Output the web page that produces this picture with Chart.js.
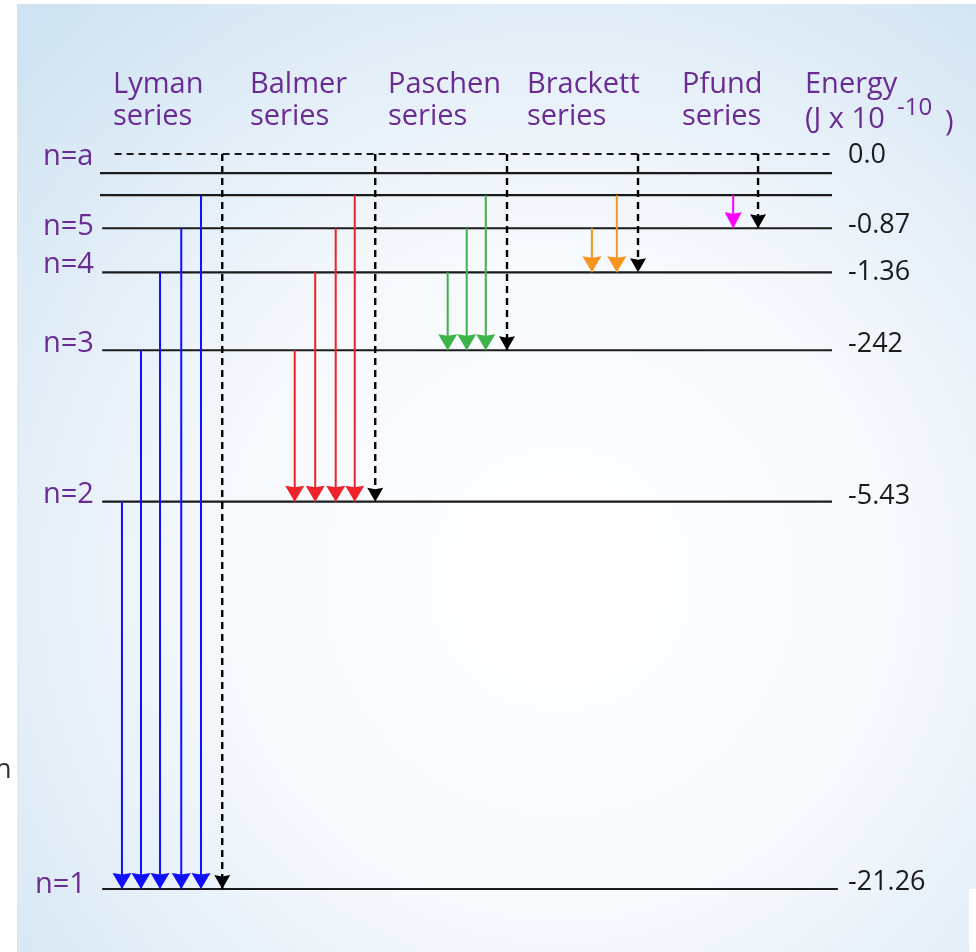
<!DOCTYPE html>
<html>
<head>
<meta charset="utf-8">
<script src="https://cdn.jsdelivr.net/npm/chart.js@4/dist/chart.umd.min.js"></script>
<style>
  html, body { margin: 0; padding: 0; background: #ffffff; overflow: hidden; }
  canvas { display: block; }
</style>
</head>
<body>
<canvas id="c" width="976" height="952"></canvas>
<script>
// ---------------- DATA ----------------
// energy levels, bottom to top (schematic vertical position, n=1 depth = -100)
const levelNames   = ['n=1', 'n=2', 'n=3', 'n=4', 'n=5', 'n=6', 'n=7', 'n=a'];
const levelLabels  = ['n=1', 'n=2', 'n=3', 'n=4', 'n=5', '', '', 'n=a'];
const energyLabels = ['-21.26', '-5.43', '-242', '-1.36', '-0.87', '', '', '0.0'];
const levelPos     = [-100, -47.3, -26.7, -16.1, -10.1, -5.6, -2.6, 0];

// spectral series: name, lower level index, upper level indices of the transitions
const seriesNames  = ['Lyman', 'Balmer', 'Paschen', 'Brackett', 'Pfund'];
const seriesTo     = [0, 1, 2, 3, 4];
const lymanFrom    = [1, 2, 3, 4, 5];
const balmerFrom   = [2, 3, 4, 5];
const paschenFrom  = [3, 4, 5];
const brackettFrom = [4, 5];
const pfundFrom    = [5];
const seriesFrom   = [lymanFrom, balmerFrom, paschenFrom, brackettFrom, pfundFrom];
const ionLevel     = 7; // n=a (ionisation limit)

// ---------------- LAYOUT / STYLE ----------------
const STYLE = {
  purple: '#6a2b94',
  dark: '#1b1b1b',
  font: '"Open Sans", "Noto Sans", sans-serif',
  seriesColors: ['#1010ff', '#ee2228', '#3cb44a', '#f7941d', '#ff00ff'],
  // arrow columns (x axis units 0..100)
  arrowX: [
    [3.0, 5.6, 8.2, 11.1, 13.8],
    [26.6, 29.4, 32.2, 34.8],
    [47.5, 50.1, 52.7],
    [67.2, 70.6],
    [86.5]
  ],
  ionX: [16.7, 37.6, 55.6, 73.5, 89.9],
  levelStart: [0.3, 0.3, 0.3, 0.3, 0.3, 0, 0, 2.0],
  levelEnd:   [100.8, 100, 100, 100, 100, 100, 100, 100],
  labelDy:  [4, 1, 2, 1, 7, 0, 0, 11],
  energyDy: [1, 2, 2, 8, 5, 0, 0, 9],
  labelX:  [35, 43, 43, 43, 43, 43, 43, 43],
  energyX: 848,
  headerX: [113, 250, 388, 527, 682],
  energyHeaderX: 805
};

// ---------------- DATASETS ----------------
const datasets = [];
levelPos.forEach((p, i) => {
  datasets.push({
    data: [{x: STYLE.levelStart[i], y: p}, {x: STYLE.levelEnd[i], y: p}],
    borderColor: STYLE.dark,
    borderWidth: 2.2,
    borderDash: i === ionLevel ? [7, 5] : [],
    showLine: true, pointRadius: 0, clip: false, order: 3
  });
});
seriesFrom.forEach((froms, s) => {
  froms.forEach((f, k) => {
    datasets.push({
      data: [{x: STYLE.arrowX[s][k], y: levelPos[f]}, {x: STYLE.arrowX[s][k], y: levelPos[seriesTo[s]]}],
      borderColor: STYLE.seriesColors[s],
      borderWidth: 2,
      showLine: true, pointRadius: 0, clip: false, order: 2,
      head: {w: s === 4 ? 17 : 19, h: 16, color: STYLE.seriesColors[s]}
    });
  });
  datasets.push({
    data: [{x: STYLE.ionX[s], y: levelPos[ionLevel]}, {x: STYLE.ionX[s], y: levelPos[seriesTo[s]]}],
    borderColor: '#000000',
    borderWidth: 2.4,
    borderDash: [7, 5],
    showLine: true, pointRadius: 0, clip: false, order: 1,
    head: {w: 16, h: 14, color: '#000000'}
  });
});

// ---------------- PLUGINS ----------------
const backgroundPlugin = {
  id: 'bg',
  beforeDraw(chart) {
    const c = chart.ctx;
    c.save();
    c.fillStyle = '#ffffff';
    c.fillRect(0, 0, chart.width, chart.height);
    const g = c.createRadialGradient(560, 580, 0, 560, 580, 760);
    g.addColorStop(0, '#ffffff');
    g.addColorStop(0.45, '#f6f9fd');
    g.addColorStop(1, '#cfe3f2');
    c.fillStyle = g;
    c.beginPath();
    c.moveTo(17, 4);
    c.lineTo(chart.width, 4);
    c.lineTo(chart.width, 889);
    c.lineTo(969, 889);
    c.lineTo(969, chart.height);
    c.lineTo(17, chart.height);
    c.closePath();
    c.fill();
    c.restore();
  }
};

const arrowHeadPlugin = {
  id: 'heads',
  afterDatasetsDraw(chart) {
    const c = chart.ctx;
    c.save();
    chart.data.datasets.forEach((ds, i) => {
      if (!ds.head) return;
      const pts = chart.getDatasetMeta(i).data;
      const tip = pts[pts.length - 1];
      const {w, h, color} = ds.head;
      c.fillStyle = color;
      c.beginPath();
      c.moveTo(tip.x, tip.y);
      c.lineTo(tip.x - w / 2, tip.y - h);
      c.lineTo(tip.x, tip.y - h + 1.5);
      c.lineTo(tip.x + w / 2, tip.y - h);
      c.closePath();
      c.fill();
    });
    c.restore();
  }
};

const textPlugin = {
  id: 'texts',
  afterDraw(chart) {
    const c = chart.ctx;
    const y = chart.scales.y;
    c.save();
    c.textBaseline = 'alphabetic';
    c.textAlign = 'left';
    // series headers
    c.fillStyle = STYLE.purple;
    c.font = '500 29px ' + STYLE.font;
    seriesNames.forEach((n, i) => {
      c.fillText(n, STYLE.headerX[i], 93);
      c.fillText('series', STYLE.headerX[i], 125);
    });
    c.fillText('Energy', STYLE.energyHeaderX, 93);
    c.font = '500 29px ' + STYLE.font;
    c.fillText('(J x 10', STYLE.energyHeaderX, 128);
    c.font = '500 24px ' + STYLE.font;
    c.fillText('-10', 897, 115);
    c.font = '500 29px ' + STYLE.font;
    c.fillText(')', 945, 131);
    // level labels (left)
    c.font = '500 29px ' + STYLE.font;
    levelLabels.forEach((t, i) => {
      if (!t) return;
      c.fillText(t, STYLE.labelX[i], y.getPixelForValue(levelPos[i]) + STYLE.labelDy[i]);
    });
    // energy labels (right)
    c.fillStyle = STYLE.dark;
    c.font = '500 27px ' + STYLE.font;
    energyLabels.forEach((t, i) => {
      if (!t) return;
      c.fillText(t, STYLE.energyX, y.getPixelForValue(levelPos[i]) + STYLE.energyDy[i]);
    });
    // clipped fragment at the left edge
    c.fillStyle = '#333333';
    c.font = '500 27px ' + STYLE.font;
    c.fillText('n', -5, 778);
    c.restore();
  }
};

new Chart(document.getElementById('c'), {
  type: 'scatter',
  data: { datasets },
  options: {
    responsive: false,
    animation: false,
    layout: { padding: { left: 100, right: 144, top: 154, bottom: 63 } },
    scales: {
      x: { type: 'linear', min: 0, max: 100, display: false },
      y: { type: 'linear', min: -100, max: 0, display: false }
    },
    plugins: { legend: { display: false }, tooltip: { enabled: false } },
    events: []
  },
  plugins: [backgroundPlugin, arrowHeadPlugin, textPlugin]
});
</script>
</body>
</html>
